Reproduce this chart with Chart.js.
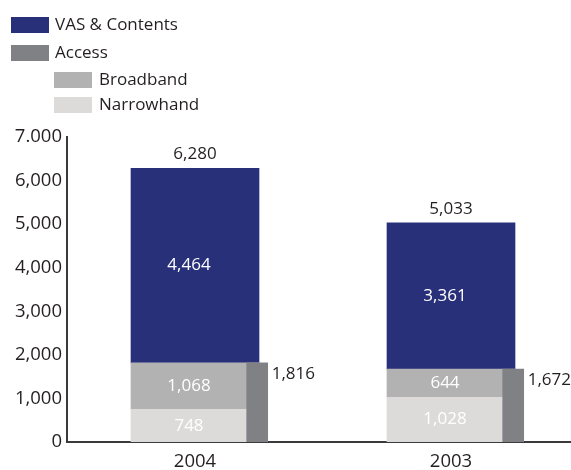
<!DOCTYPE html>
<html>
<head>
<meta charset="utf-8">
<script src="https://cdn.jsdelivr.net/npm/chart.js@4"></script>
<style>
  html, body { margin: 0; padding: 0; background: #fff; }
</style>
</head>
<body>
<canvas id="chart" width="571" height="470"></canvas>
<script>
const years = ["2004", "2003"];
const narrowband = [748, 1028];
const broadband = [1068, 644];
const vasContents = [4464, 3361];
const access = [1816, 1672];
const totals = [6280, 5033];
const yTickLabels = ["0", "1,000", "2,000", "3,000", "4,000", "5,000", "6,000", "7.000"];

const fmt = (v) => v.toLocaleString("en-US");
const ACCESS_SHIFT = 0.243; // thin Access bar sits just right of the main bar

const colors = {
  vas: "#28307a",
  access: "#808184",
  broad: "#b3b2b3",
  narrow: "#dcdbda",
  text: "#231f20",
  axis: "#3a3a3a",
};

Chart.defaults.font.family = "'Open Sans', sans-serif";
Chart.defaults.font.size = 17;
Chart.defaults.color = colors.text;

// legend drawn by hand because two items are indented under Access
const legendPlugin = {
  id: "sideLegend",
  afterDraw(chart) {
    const ctx = chart.ctx;
    const items = [
      { ds: 2, indent: 0, top: 17 },
      { ds: 3, indent: 0, top: 45 },
      { ds: 1, indent: 43, top: 72 },
      { ds: 0, indent: 43, top: 97 },
    ];
    ctx.save();
    ctx.font = "17px 'Open Sans', sans-serif";
    ctx.textBaseline = "middle";
    ctx.textAlign = "left";
    items.forEach((it) => {
      const ds = chart.data.datasets[it.ds];
      const x = 11 + it.indent;
      ctx.fillStyle = ds.backgroundColor;
      ctx.fillRect(x, it.top, 38, 16);
      ctx.fillStyle = colors.text;
      ctx.fillText(ds.label, x + 44 + (it.indent ? 1 : 0), it.top + 8);
    });
    ctx.restore();
  },
};

const valueLabels = {
  id: "valueLabels",
  afterDatasetsDraw(chart) {
    const ctx = chart.ctx;
    ctx.save();
    ctx.font = "17px 'Open Sans', sans-serif";
    ctx.textAlign = "center";
    ctx.textBaseline = "middle";
    // values inside the stacked segments
    [0, 1, 2].forEach((d) => {
      chart.getDatasetMeta(d).data.forEach((bar, i) => {
        const p = bar.getProps(["x", "y", "base", "width"], true);
        ctx.fillStyle = "#ffffff";
        ctx.fillText(fmt(chart.data.datasets[d].data[i].y), p.x - 6, (p.y + p.base) / 2);
      });
    });
    // totals above main bars
    chart.getDatasetMeta(2).data.forEach((bar, i) => {
      const p = bar.getProps(["x", "y"], true);
      ctx.fillStyle = colors.text;
      ctx.fillText(fmt(totals[i]), p.x, p.y - 14);
    });
    // access totals to the right of thin bars
    ctx.textAlign = "left";
    chart.getDatasetMeta(3).data.forEach((bar, i) => {
      const p = bar.getProps(["x", "y", "width"], true);
      ctx.fillStyle = colors.text;
      ctx.fillText(fmt(access[i]), p.x + p.width / 2 + 4, p.y + 11);
    });
    ctx.restore();
  },
};

const mainPoints = (arr) => arr.map((v, i) => ({ x: i, y: v }));

new Chart(document.getElementById("chart"), {
  type: "bar",
  data: {
    datasets: [
      { label: "Narrowhand", data: mainPoints(narrowband), backgroundColor: colors.narrow, barThickness: 128 },
      { label: "Broadband", data: mainPoints(broadband), backgroundColor: colors.broad, barThickness: 128 },
      { label: "VAS & Contents", data: mainPoints(vasContents), backgroundColor: colors.vas, barThickness: 128 },
      {
        label: "Access",
        data: access.map((v, i) => ({ x: i + ACCESS_SHIFT, y: v })),
        backgroundColor: colors.access,
        barThickness: 21,
        order: -1,
      },
    ],
  },
  options: {
    responsive: false,
    animation: false,
    layout: { padding: { top: 137, left: 0, right: 0, bottom: 0 } },
    plugins: {
      legend: { display: false },
      tooltip: { enabled: false },
    },
    scales: {
      x: {
        type: "linear",
        offset: false,
        stacked: true,
        min: -0.5,
        max: 1.46875,
        afterBuildTicks: (scale) => {
          scale.ticks = years.map((y, i) => ({ value: i }));
        },
        afterFit: (scale) => {
          scale.height = 28;
        },
        ticks: {
          callback: (v, i) => years[i],
          padding: 9,
          autoSkip: false,
          maxRotation: 0,
          color: colors.text,
          font: { size: 18.5 },
        },
        grid: { display: false, drawTicks: false },
        border: { display: true, color: colors.axis, width: 2 },
      },
      y: {
        stacked: true,
        min: 0,
        max: 7000,
        afterFit: (scale) => {
          scale.width = 67;
        },
        ticks: {
          stepSize: 1000,
          callback: (v, i) => yTickLabels[i],
          padding: 5,
          color: colors.text,
          font: { size: 18.5 },
        },
        grid: { display: false, drawTicks: false },
        border: { display: true, color: colors.axis, width: 2 },
      },
    },
  },
  plugins: [legendPlugin, valueLabels],
});
</script>
</body>
</html>
